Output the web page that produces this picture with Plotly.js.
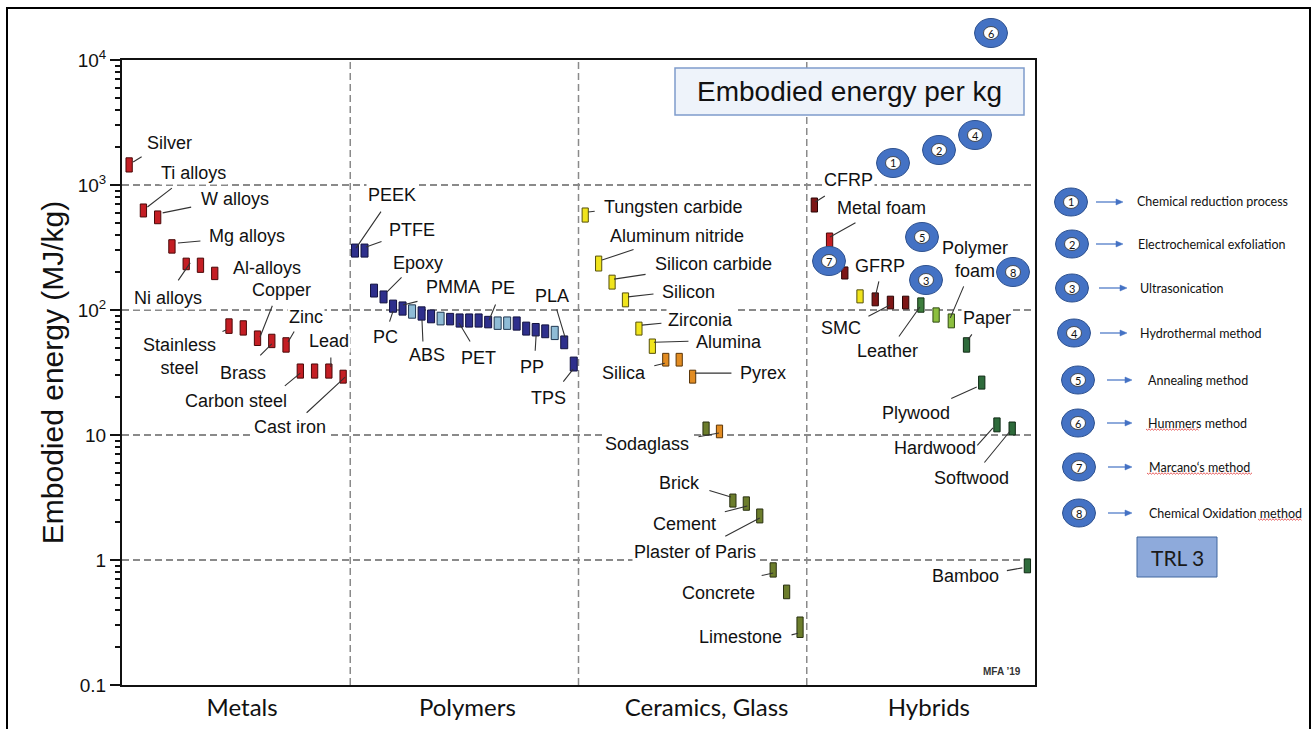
<!DOCTYPE html>
<html><head><meta charset="utf-8">
<script src="https://cdn.plot.ly/plotly-3.0.1.min.js"></script>
<style>html,body{margin:0;padding:0;background:#fff;}#chart{width:1313px;height:729px;}</style>
</head><body><div id="chart"></div>
<script>
// ================= DATA =================
const groupNames = ['Metals', 'Polymers', 'Ceramics, Glass', 'Hybrids'];

const metalNames = ['Silver', 'Ti alloys', 'W alloys', 'Mg alloys', 'Ni alloys', null, 'Al-alloys',
  'Stainless steel', null, 'Copper', 'Brass', 'Zinc', 'Carbon steel', null, 'Lead', 'Cast iron'];
const metalLow  = [1270, 555, 490, 285, 210, 200, 175, 65, 63, 52, 50, 46, 28.5, 28.5, 28.5, 26];
const metalHigh = [1650, 705, 620, 365, 260, 260, 220, 85, 82, 68, 64, 60, 37, 37, 37, 33];
const metalKind = ['metal', 'metal', 'metal', 'metal', 'metal', 'metal', 'metal', 'metal',
  'metal', 'metal', 'metal', 'metal', 'metal', 'metal', 'metal', 'metal'];

const polymerNames = ['PEEK', 'PTFE', null, 'Epoxy', 'PC', 'PMMA', null, 'ABS', null, null, null, 'PET',
  null, null, 'PE', null, null, null, null, 'PP', null, null, 'PLA', 'TPS'];
const polymerLow  = [265, 265, 127, 114, 96, 91, 86, 83, 79, 76, 76, 73, 73, 73, 72, 70, 70, 69, 63, 62, 60, 58, 49, 32.5];
const polymerHigh = [337, 337, 161, 142, 120, 116, 110, 106, 100, 96, 94, 93, 93, 93, 89, 88, 88, 88, 80, 78, 76, 74, 62, 42];
const polymerKind = ['polymer', 'polymer', 'polymer', 'polymer', 'polymer', 'polymer', 'polymerLight', 'polymer',
  'polymer', 'polymerLight', 'polymer', 'polymer', 'polymer', 'polymer', 'polymer', 'polymerLight',
  'polymerLight', 'polymer', 'polymer', 'polymer', 'polymer', 'polymerLight', 'polymer', 'polymer'];

const ceramicNames = ['Tungsten carbide', 'Aluminum nitride', 'Silicon carbide', 'Silicon', 'Zirconia', 'Alumina',
  'Silica', null, 'Pyrex', null, 'Sodaglass', 'Brick', 'Cement', 'Plaster of Paris', 'Concrete', null, 'Limestone'];
const ceramicLow  = [505, 205, 147, 106, 63, 45, 35.6, 35.6, 26, 10, 9.5, 2.65, 2.5, 1.98, 0.73, 0.49, 0.24];
const ceramicHigh = [655, 270, 190, 137, 80, 58.6, 45, 45, 33, 12.7, 12, 3.37, 3.2, 2.56, 0.95, 0.63, 0.35];
const ceramicKind = ['ceramic', 'ceramic', 'ceramic', 'ceramic', 'ceramic', 'ceramic', 'glass', 'glass', 'glass',
  'mineral', 'glass', 'mineral', 'mineral', 'mineral', 'mineral', 'mineral', 'mineral'];

const hybridNames = ['CFRP', 'Metal foam', null, null, 'GFRP', 'SMC', null, 'Leather', null, 'Polymer foam',
  'Paper', 'Plywood', 'Hardwood', 'Softwood', 'Bamboo'];
const hybridLow  = [608, 320, 177, 114, 108, 102, 102, 96, 80, 72, 46, 23.3, 10.6, 10, 0.79];
const hybridHigh = [787, 413, 221, 145, 137, 129, 129, 125, 104, 93, 60, 29.6, 13.7, 12.7, 1.02];
const hybridKind = ['composite', 'foam', 'composite', 'hybridCeramic', 'composite', 'composite', 'composite',
  'natural', 'polymerFoam', 'polymerFoam', 'wood', 'wood', 'wood', 'wood', 'wood'];

const yTickVals = [0.1, 1, 10, 100, 1000, 10000];
const yTickText = ['0.1', '1', '10', '10<sup>2</sup>', '10<sup>3</sup>', '10<sup>4</sup>'];

const methodNumbers = ['1', '2', '3', '4', '5', '6', '7', '8'];
const methodNames = ['Chemical reduction process', 'Electrochemical exfoliation', 'Ultrasonication',
  'Hydrothermal method', 'Annealing method', 'Hummers method', 'Marcano‘s method', 'Chemical Oxidation method'];

// ================= STYLE / LAYOUT =================
const L = 122, R = 1035, T = 60, B = 685;
const PW = R - L, PH = B - T, unitPx = PW / 4;
const pX = p => (p - L) / PW;
const pY = p => (B - p) / PH;

const kindStyle = {
  metal: ['#c41e24', '#4a0808'],
  polymer: ['#2e2f8c', '#12123f'],
  polymerLight: ['#8fbcd6', '#1e3650'],
  ceramic: ['#f0e41c', '#55500c'],
  glass: ['#e28c22', '#5a3508'],
  mineral: ['#6c7d2c', '#283010'],
  composite: ['#7d1616', '#2a0404'],
  foam: ['#c41e24', '#4a0808'],
  hybridCeramic: ['#f0e41c', '#55500c'],
  natural: ['#3d7d3d', '#143014'],
  polymerFoam: ['#8cbf3f', '#2f4a12'],
  wood: ['#2e6b3b', '#0f2a14']
};
const groups = [
  {names: metalNames, low: metalLow, high: metalHigh, kind: metalKind, barPx: 6.3},
  {names: polymerNames, low: polymerLow, high: polymerHigh, kind: polymerKind, barPx: 7},
  {names: ceramicNames, low: ceramicLow, high: ceramicHigh, kind: ceramicKind, barPx: 6.2},
  {names: hybridNames, low: hybridLow, high: hybridHigh, kind: hybridKind, barPx: 6.3}
];

// label placement: t = text centre offset from bar centre (px, y down);
// l = [tip dx, tip dy (from bar centre), tail dx, tail dy (from tip)]
const labelPos = {
  'Silver': {t: [40, -22], l: [4, -3, 10, -6]},
  'Ti alloys': {t: [50, -37.5], l: [4, -3.5, 26, -20]},
  'W alloys': {t: [77, -18.5], l: [5, -4.5, 30, -6]},
  'Mg alloys': {t: [75, -10.5], l: [6, -3.5, 24, -2]},
  'Al-alloys': {t: [52, -5.5]},
  'Ni alloys': {t: [-18, 34], l: [4, -1, -13, 19]},
  'Stainless steel': {t: [-49, 30], wrap: true, l: [-3, 4, -5, 2]},
  'Copper': {t: [24.4, -48], l: [2.4, -1, 13, -33]},
  'Brass': {t: [-29, 32], l: [0, 3, -13, 13]},
  'Zinc': {t: [20, -28], l: [2, -3, 7, -12]},
  'Carbon steel': {t: [-64, 30], l: [0, 2, -17, 14]},
  'Lead': {t: [0, -30], l: [2, -4, 0, -11]},
  'Cast iron': {t: [-53, 50.5], l: [2, 0.5, -40, 37]},
  'PEEK': {t: [37, -55.5], l: [1, -2.5, 26, -38]},
  'PTFE': {t: [47.5, -20.5], l: [1.5, -3.5, 17, -6]},
  'Epoxy': {t: [34.5, -34], l: [3.5, -5, 16, -16]},
  'PC': {t: [-8, 31], l: [0, 5, -4, 12]},
  'PMMA': {t: [50.4, -21.5], l: [0.4, -3.5, 16, -4]},
  'ABS': {t: [5.4, 41.5], l: [0.4, 6.5, 1, 23]},
  'PET': {t: [18.4, 37.5], l: [-0.6, 2.5, 12, 20]},
  'PE': {t: [15, -34], l: [1, -2, 7, -17]},
  'PP': {t: [-3.6, 37.5], l: [0.4, 5.5, -1, 17]},
  'PLA': {t: [-12, -46.5], l: [1, -4.5, -9, -30]},
  'TPS': {t: [-25.6, 34], l: [-0.6, 5, -11, 14]},
  'Tungsten carbide': {t: [88, -8], l: [3, -3, 8, -1]},
  'Aluminum nitride': {t: [78.4, -27.5], l: [3.4, -3.5, 33, -11]},
  'Silicon carbide': {t: [101, -18], l: [2, -3, 33, -5]},
  'Silicon': {t: [63.5, -8], l: [2.5, -3, 27, -3]},
  'Zirconia': {t: [62, -8.5], l: [3, -3.5, 21, -2]},
  'Alumina': {t: [76.6, -4], l: [1.6, -4, 36, -1]},
  'Silica': {t: [-42, 13.5], l: [-1, 3.5, -12, 3]},
  'Pyrex': {t: [70.3, -3.5], l: [2.3, -3.5, 38, 0]},
  'Sodaglass': {t: [-72.5, 12.5], l: [-0.5, 1.5, -22, 4]},
  'Brick': {t: [-53, -17.5], l: [-2, -3.5, -23, -7]},
  'Cement': {t: [-62, 20.5], l: [1, 2.5, -24, 6]},
  'Plaster of Paris': {t: [-65, 36], l: [0, 2, -36, 19]},
  'Concrete': {t: [-55, 23], l: [0, 3, -13, 3]},
  'Limestone': {t: [-60, 10], l: [-2, 6, -8, 2]},
  'CFRP': {t: [34, -25], l: [1, -3, 11, -7]},
  'Metal foam': {t: [52.4, -32], l: [0.4, -3, 27, -15], nobg: true},
  'GFRP': {t: [5, -33.5], l: [0, -2.5, 4, -17], nobg: true},
  'SMC': {t: [-49.5, 25.5], l: [-0.5, 2.5, -23, 12]},
  'Leather': {t: [-33, 46], l: [-1, 2, -22, 31]},
  'Polymer foam': {t: [24, -61], wrap: true, l: [-1, -3, 14, -33], nobg: true},
  'Paper': {t: [20.4, -27], l: [1.4, -5, 5, -7]},
  'Plywood': {t: [-66, 30.5], l: [-5, 4.5, -27, 12]},
  'Hardwood': {t: [-62, 23], l: [-4, 3, -17, 19]},
  'Softwood': {t: [-41, 49.5], l: [-2, 2.5, -27, 33]},
  'Bamboo': {t: [-62, 10], l: [-5, 2, -17, 3]}
};

const labelFont = {family: 'Liberation Sans, Arial, sans-serif', size: 18, color: '#111'};
const traces = [];
const labelAnn = [];
const leaderAnn = [];
const annotations = [];
const shapes = [];

[1, 2, 3].forEach(k => shapes.push({type: 'line', xref: 'x', yref: 'paper', x0: k, x1: k, y0: 0, y1: 1,
  layer: 'below', line: {color: '#8a8a8a', width: 1.5, dash: '7px,4px'}}));

groups.forEach((g, gi) => {
  const n = g.names.length;
  const xs = g.names.map((_, i) => gi + (i + 0.5) / n);
  traces.push({
    type: 'bar', name: groupNames[gi], x: xs, base: g.low,
    y: g.high.map((h, i) => h - g.low[i]),
    width: xs.map(() => g.barPx / unitPx),
    customdata: g.names.map(nm => nm || groupNames[gi]),
    hovertemplate: '%{customdata}<extra></extra>',
    marker: {color: g.kind.map(k => kindStyle[k][0]),
             line: {color: g.kind.map(k => kindStyle[k][1]), width: 1}},
    showlegend: false
  });
  g.names.forEach((nm, i) => {
    if (!nm || !labelPos[nm]) return;
    const s = labelPos[nm];
    const ylog = Math.log10(Math.sqrt(g.low[i] * g.high[i]));
    labelAnn.push({x: xs[i], y: ylog, xref: 'x', yref: 'y', showarrow: false,
      text: s.wrap ? nm.replace(' ', '<br>') : nm, xanchor: 'center', yanchor: 'middle',
      xshift: s.t[0], yshift: -s.t[1], bgcolor: s.nobg ? 'rgba(0,0,0,0)' : '#ffffff', borderpad: 1, font: labelFont});
    if (s.l) leaderAnn.push({x: xs[i], y: ylog, xref: 'x', yref: 'y', text: '', showarrow: true,
      arrowhead: 0, arrowwidth: 1.1, arrowcolor: '#333', axref: 'pixel', ayref: 'pixel',
      ax: s.l[2], ay: s.l[3], xshift: s.l[0], yshift: -s.l[1], standoff: 0, startstandoff: 0});
  });
});

// decorative numbered badges (hand-placed in the reference)
const badgeInPlot = {'1': [893, 163], '2': [939, 150], '3': [926, 280], '4': [975, 135],
  '5': [922, 237], '6': [991, 33], '7': [829, 261], '8': [1013, 272]};
const legendCircle = [[1071, 202], [1072, 244], [1072, 288], [1074, 333], [1078, 380], [1078, 423], [1079, 467], [1079, 513]];
const legendArrow = [[1096, 1123], [1096, 1123], [1099, 1127], [1100, 1127], [1107, 1132], [1107, 1132], [1108, 1132], [1108, 1132]];
const legendTextX = [1135, 1136, 1138, 1138, 1146, 1146, 1147, 1147];
const spellMarks = [[5, 1146, 1199], [6, 1147, 1252], [7, 1258, 1302]];

// outer frame
shapes.push({type: 'rect', xref: 'paper', yref: 'paper', x0: pX(7), x1: pX(1310), y0: pY(760), y1: pY(8),
  line: {color: '#000', width: 2}, fillcolor: 'rgba(0,0,0,0)', layer: 'above'});
// title box
shapes.push({type: 'rect', xref: 'paper', yref: 'paper', x0: pX(675), x1: pX(1024), y0: pY(115), y1: pY(68),
  line: {color: '#7f9ccc', width: 1.5}, fillcolor: '#eef3fa', layer: 'above'});
annotations.push({xref: 'paper', yref: 'paper', x: pX(849.5), y: pY(91.5), showarrow: false,
  text: 'Embodied energy per kg', xanchor: 'center', yanchor: 'middle',
  font: {family: 'Liberation Sans, Arial, sans-serif', size: 28, color: '#111'}});

function badge(cx, cy, num, rx, ry) {
  shapes.push({type: 'circle', xref: 'paper', yref: 'paper', x0: pX(cx - rx), x1: pX(cx + rx),
    y0: pY(cy + ry), y1: pY(cy - ry), fillcolor: '#4472c4', line: {color: '#2f528f', width: 1}, layer: 'above'});
  shapes.push({type: 'circle', xref: 'paper', yref: 'paper', x0: pX(cx - 7.5), x1: pX(cx + 7.5),
    y0: pY(cy + 6.5), y1: pY(cy - 6.5), fillcolor: '#ffffff', line: {color: '#333', width: 0.8}, layer: 'above'});
  annotations.push({xref: 'paper', yref: 'paper', x: pX(cx), y: pY(cy), text: num, showarrow: false,
    xanchor: 'center', yanchor: 'middle', font: {family: 'Lato, sans-serif', size: 11, color: '#111'}});
}
methodNumbers.forEach(num => { const p = badgeInPlot[num]; badge(p[0], p[1], num, 16.5, 14.5); });
methodNumbers.forEach((num, i) => {
  const [cx, cy] = legendCircle[i];
  badge(cx, cy, num, 16.5, 14);
  const [a0, a1] = legendArrow[i];
  shapes.push({type: 'line', xref: 'paper', yref: 'paper', x0: pX(a0), x1: pX(a1 - 4), y0: pY(cy), y1: pY(cy),
    line: {color: '#4472c4', width: 1.2}, layer: 'above'});
  shapes.push({type: 'path', xref: 'paper', yref: 'paper', layer: 'above',
    path: `M${pX(a1)},${pY(cy)} L${pX(a1 - 7)},${pY(cy - 3)} L${pX(a1 - 7)},${pY(cy + 3)} Z`,
    fillcolor: '#4472c4', line: {color: '#4472c4', width: 0.5}});
  annotations.push({xref: 'paper', yref: 'paper', x: pX(legendTextX[i]), y: pY(cy), text: methodNames[i],
    showarrow: false, xanchor: 'left', yanchor: 'middle',
    font: {family: 'Lato, sans-serif', size: 12.5, color: '#111'}});
});
// spell-check wavy underlines seen in the reference
spellMarks.forEach(([i, xa, xb]) => {
  const y = legendCircle[i][1] + 6;
  let d = `M${pX(xa)},${pY(y)}`;
  for (let x = xa + 1.5, k = 1; x <= xb; x += 1.5, k++) d += ` L${pX(x)},${pY(y + (k % 2 ? 1.2 : -0.2))}`;
  shapes.push({type: 'path', xref: 'paper', yref: 'paper', path: d, layer: 'above',
    line: {color: '#e03030', width: 0.8}});
});
// TRL box
shapes.push({type: 'rect', xref: 'paper', yref: 'paper', x0: pX(1137), x1: pX(1217), y0: pY(577), y1: pY(537),
  line: {color: '#41669e', width: 1}, fillcolor: '#8eaadb', layer: 'above'});
annotations.push({xref: 'paper', yref: 'paper', x: pX(1177), y: pY(557), text: 'TRL 3', showarrow: false,
  xanchor: 'center', yanchor: 'middle', font: {family: 'Lato, sans-serif', size: 21, color: '#1a1a1a'}});
// MFA credit
annotations.push({xref: 'paper', yref: 'paper', x: pX(1002), y: pY(671), text: '<b>MFA \u201919</b>', showarrow: false,
  xanchor: 'center', yanchor: 'middle', font: {family: 'Liberation Sans, Arial, sans-serif', size: 10, color: '#333'}});

const xLabelNudge = [6, 3, 14, 8];

const layout = {
  width: 1313, height: 729,
  margin: {l: L, r: 1313 - R, t: T, b: 729 - B, pad: 0},
  paper_bgcolor: '#ffffff', plot_bgcolor: '#ffffff',
  barmode: 'overlay', showlegend: false,
  xaxis: {range: [0, 4], tickvals: groupNames.map((_, i) => i + 0.5 + xLabelNudge[i] / unitPx),
    ticktext: groupNames, ticks: '', showgrid: false, zeroline: false,
    showline: true, linewidth: 2, linecolor: '#111', mirror: true,
    tickfont: {family: 'Lato, sans-serif', size: 24, color: '#111'}},
  yaxis: {type: 'log', range: [-1, 4], tickvals: yTickVals, ticktext: yTickText,
    ticks: 'outside', ticklen: 10, tickwidth: 2, tickcolor: '#111',
    showline: true, linewidth: 2, linecolor: '#111', mirror: true,
    showgrid: true, gridcolor: '#8a8a8a', gridwidth: 1.5, griddash: '7px,4px', zeroline: false,
    tickfont: {family: 'Liberation Sans, Arial, sans-serif', size: 19, color: '#111'},
    minor: {ticks: 'outside', ticklen: 5, tickwidth: 2, tickcolor: '#111', dtick: 'D1', showgrid: false},
    title: {text: 'Embodied energy (MJ/kg)', standoff: 5,
      font: {family: 'Liberation Sans, Arial, sans-serif', size: 30, color: '#111'}}},
  shapes: shapes,
  annotations: labelAnn.concat(leaderAnn, annotations)
};

Plotly.newPlot('chart', traces, layout, {displayModeBar: false, staticPlot: true});
</script></body></html>
